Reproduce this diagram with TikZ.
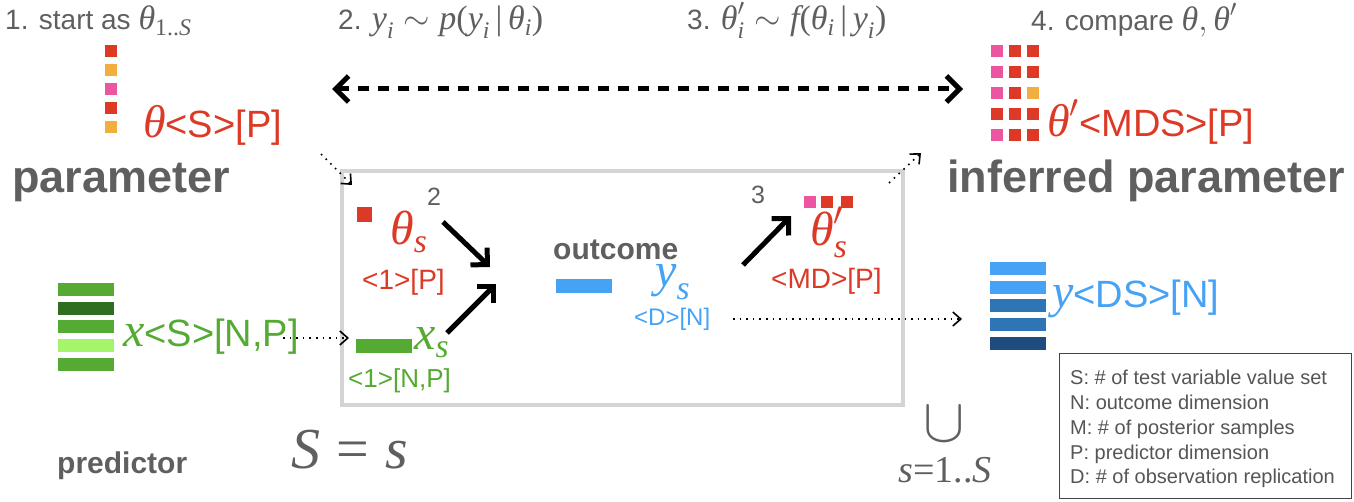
\RequirePackage{fix-cm}
\documentclass[tikz,border=0pt]{standalone}
\usepackage{amsmath}
\usepackage[no-math]{fontspec}
\setmainfont{Liberation Sans}
\newfontfamily\sr{Liberation Serif}
\usetikzlibrary{arrows.meta}
\definecolor{tgray}{HTML}{5F5F5F}
\definecolor{pred}{HTML}{DC3A26}
\definecolor{porange}{HTML}{F2AE3E}
\definecolor{ppink}{HTML}{EC55A0}
\definecolor{pgreen}{HTML}{55AA33}
\definecolor{pdkgreen}{HTML}{2F6E1E}
\definecolor{pltgreen}{HTML}{A5F56A}
\definecolor{pblue}{HTML}{45A2F5}
\definecolor{pmdblue}{HTML}{2E75B6}
\definecolor{pdkblue}{HTML}{1E4C7E}
\definecolor{boxgray}{HTML}{D4D4D4}
\definecolor{leggray}{HTML}{444444}
\definecolor{legtext}{HTML}{555555}
\newcommand{\fsz}[1]{\fontsize{#1}{#1}\selectfont}
\newcommand{\mth}[2]{{\fontsize{#1}{#1}\selectfont$#2$}}
\newcommand{\V}[1]{\text{\sr\itshape #1}}
\newcommand{\R}[1]{\text{\sr #1}}
\begin{document}
\begin{tikzpicture}[x=1pt,y=-1pt,
  txt/.style={inner sep=0pt, anchor=base west},
  lbl/.style={txt, text=tgray, font={\fsz{28}}},
  bigword/.style={txt, text=tgray, font={\fsz{45}\bfseries}},
  midword/.style={txt, text=tgray, font={\fsz{30}\bfseries}},
  varlbl/.style={txt, font={\fsz{38}}},
  dimlbl/.style={txt, font={\fsz{28}}},
  leglbl/.style={txt, text=legtext, font={\fsz{20}}},
  dotarrow/.style={line width=1.6pt, dash pattern=on 1.6pt off 5pt,
    -{Straight Barb[length=8pt,width=14pt,line width=1.6pt]}},
  thickarrow/.style={line width=5pt, -{Straight Barb[length=12pt,width=24pt]}},
  bigdash/.style={line width=5pt, dash pattern=on 11pt off 9pt,
    {Straight Barb[length=13pt,width=26pt]}-{Straight Barb[length=13pt,width=26pt]}},
]
\useasboundingbox (0,0) rectangle (1354,502);

% top step labels
\node[lbl] (st1) at (5,30) {1. start as \mth{34}{\V{θ}_{\R{1..}\V{S}}}};
\node[lbl] (st2) at (338,30) {2. \mth{34}{\V{y}_{\V{i}}\sim\V{p}\R{(}\V{y}_{\V{i}}\,\R{|}\,\V{θ}_{\V{i}}\R{)}}};
\node[lbl] (st3) at (687,30) {3. \mth{34}{\V{θ}'_{\V{i}}\sim\V{f}\R{(}\V{θ}_{\V{i}}\,\R{|}\,\V{y}_{\V{i}}\R{)}}};
\node[lbl] (st4) at (1031,31) {4. compare \mth{34}{\V{θ},\V{θ}'}};

% big dashed double arrow
\coordinate (dl) at (332,89);
\coordinate (dr) at (963,89);
\draw[bigdash] (dl) -- (dr);

% left parameter squares
\fill[pred]    (105,45)  rectangle ++(12,12);
\fill[porange] (105,64)  rectangle ++(12,12);
\fill[ppink]   (105,83)  rectangle ++(12,12);
\fill[pred]    (105,102) rectangle ++(12,12);
\fill[porange] (105,121) rectangle ++(12,12);
\node[varlbl, text=pred] (thS) at (143,138) {\mth{46}{\V{θ}}<S>[P]};
\node[bigword] (param) at (12,193) {parameter};

% right inferred parameter grid
\foreach \ca/\cb/\cc [count=\i from 0] in {ppink/pred/pred, ppink/pred/pred, ppink/pred/porange, pred/pred/pred, ppink/pred/pred}{
  \fill[\ca] (991,45+21*\i) rectangle ++(12,12);
  \fill[\cb] (1009,45+21*\i) rectangle ++(12,12);
  \fill[\cc] (1027,45+21*\i) rectangle ++(12,12);
}
\node[varlbl, text=pred] (thM) at (1047,137) {\mth{46}{\V{θ}'}<MDS>[P]};
\node[bigword] (infparam) at (947,193) {inferred parameter};

% predictor bars
\fill[pgreen]   (58,283) rectangle ++(56,13);
\fill[pdkgreen] (58,302) rectangle ++(56,13);
\fill[pgreen]   (58,320) rectangle ++(56,13);
\fill[pltgreen] (58,339) rectangle ++(56,13);
\fill[pgreen]   (58,358) rectangle ++(56,13);
\node[varlbl, text=pgreen] (xS) at (123,347) {\mth{48}{\V{x}}<S>[N,P]};
\node[midword] (pred) at (57,473) {predictor};

% outcome bars right
\fill[pblue]   (990,262) rectangle ++(56,13);
\fill[pblue]   (990,281) rectangle ++(56,13);
\fill[pmdblue] (990,299) rectangle ++(56,13);
\fill[pmdblue] (990,318) rectangle ++(56,13);
\fill[pdkblue] (990,337) rectangle ++(56,13);
\node[varlbl, text=pblue] (yDS) at (1052,308) {\mth{48}{\V{y}}<DS>[N]};

% plate box
\draw[boxgray, line width=4pt] (341.5,171) rectangle (902.5,405);

% inside plate
\fill[pred] (357,207) rectangle ++(15,15);
\node[txt, text=tgray, font={\fsz{25}}] (n2) at (427,206) {2};
\node[txt, text=pred] (ths) at (390,245) {\mth{48}{\V{θ}_{\V{s}}}};
\node[dimlbl, text=pred] (ths2) at (362,290) {<1>[P]};
\fill[pgreen] (356,339) rectangle ++(56,14);
\node[txt, text=pgreen] (xs) at (414,350) {\mth{48}{\V{x}_{\V{s}}}};
\node[txt, text=pgreen, font={\fsz{26}}] (xs2) at (348,388) {<1>[N,P]};
\node[midword] (outc) at (553,260) {outcome};
\fill[pblue] (556,279) rectangle ++(56,14);
\node[txt, text=pblue] (ys) at (655,287) {\mth{48}{\V{y}_{\V{s}}}};
\node[txt, text=pblue, font={\fsz{24}}] (ys2) at (634,326) {<D>[N]};
\node[txt, text=tgray, font={\fsz{25}}] (n3) at (751,204) {3};
\fill[ppink] (804,196) rectangle ++(12,12);
\fill[pred]  (821,196) rectangle ++(12,12);
\fill[pred]  (841,196) rectangle ++(12,12);
\node[txt, text=pred] (thp) at (810,246) {\mth{48}{\V{θ}'_{\V{s}}}};
\node[dimlbl, text=pred] (thp2) at (771,289) {<MD>[P]};

% thick arrows
\coordinate (a1s) at (443,222); \coordinate (a1e) at (490,267);
\coordinate (a2s) at (447,333); \coordinate (a2e) at (496,284);
\coordinate (a3s) at (743,265); \coordinate (a3e) at (791,216);
\draw[thickarrow] (a1s) -- (a1e);
\draw[thickarrow] (a2s) -- (a2e);
\draw[thickarrow] (a3s) -- (a3e);

% dotted arrows
\coordinate (d1s) at (321,154); \coordinate (d1e) at (352,185);
\coordinate (d2s) at (889,183); \coordinate (d2e) at (921,153);
\coordinate (d3s) at (283,338); \coordinate (d3e) at (349,338);
\coordinate (d4s) at (733,319); \coordinate (d4e) at (962,319);
\draw[dotarrow] (d1s) -- (d1e);
\draw[dotarrow] (d2s) -- (d2e);
\draw[dotarrow] (d3s) -- (d3e);
\draw[dotarrow] (d4s) -- (d4e);

% bottom math
\node[txt, text=tgray] (Ss) at (291,468) {\mth{58}{\V{S}\mathrel{\R{=}}\V{s}}};
\node[inner sep=0pt, text=tgray] (cup) at (944,424) {\mth{62}{\cup}};
\node[inner sep=0pt, text=tgray] (srange) at (945,470) {\mth{38}{\V{s}\R{=1..}\V{S}}};

% legend
\node[draw=leggray, line width=1pt, inner sep=0pt, minimum width=292pt, minimum height=145pt, anchor=north west] (legend) at (1059,353) {};
\node[leglbl] (l1) at (1070,384) {S: \# of test variable value set};
\node[leglbl] (l2) at (1070,409) {N: outcome dimension};
\node[leglbl] (l3) at (1070,434) {M: \# of posterior samples};
\node[leglbl] (l4) at (1070,459) {P: predictor dimension};
\node[leglbl] (l5) at (1070,483) {D: \# of observation replication};
\end{tikzpicture}
\end{document}
